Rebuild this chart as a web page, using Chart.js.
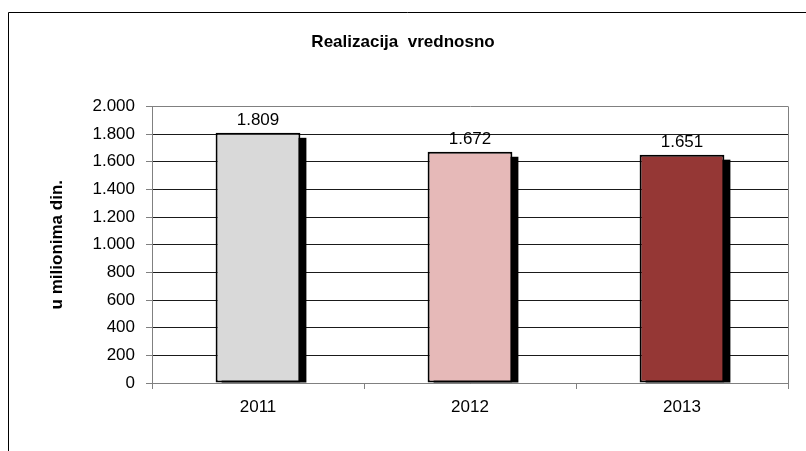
<!DOCTYPE html>
<html>
<head>
<meta charset="utf-8">
<script src="https://cdn.jsdelivr.net/npm/chart.js@4/dist/chart.umd.min.js"></script>
<style>
  html, body { margin: 0; padding: 0; background: #fff; }
  #wrap { width: 806px; height: 451px; }
</style>
</head>
<body>
<div id="wrap"><canvas id="realizacijaChart" width="806" height="451"></canvas></div>
<script>
const years = ["2011", "2012", "2013"];
const values = [1809, 1672, 1651];
const barColors = ["#d9d9d9", "#e6b9b8", "#953735"];
const yTicks = [0, 200, 400, 600, 800, 1000, 1200, 1400, 1600, 1800, 2000];

// 1809 -> "1.809"
function fmt(v) {
  return String(v).replace(/\B(?=(\d{3})+(?!\d))/g, ".");
}

// frame around the whole chart (only top and left are visible in the picture)
const framePlugin = {
  id: "frame",
  afterDraw(chart) {
    const ctx = chart.ctx;
    const a = chart.chartArea;
    ctx.save();
    ctx.strokeStyle = "#000";
    ctx.lineWidth = 1;
    ctx.beginPath();
    ctx.moveTo(8.5, 451);
    ctx.lineTo(8.5, 12.5);
    ctx.lineTo(806, 12.5);
    ctx.stroke();
    // right edge of the plot area
    ctx.strokeStyle = "#808080";
    ctx.beginPath();
    ctx.moveTo(Math.round(a.right) + 0.5, a.top);
    ctx.lineTo(Math.round(a.right) + 0.5, a.bottom);
    ctx.stroke();
    ctx.restore();
  },
};

// hard black shadow behind the bars (bar element clips its own drawing,
// so the shadow is painted from the bar geometry before the bars)
const shadowPlugin = {
  id: "barShadow",
  beforeDatasetsDraw(chart) {
    const ctx = chart.ctx;
    ctx.save();
    ctx.fillStyle = "#000";
    chart.getDatasetMeta(0).data.forEach((bar) => {
      const p = bar.getProps(["x", "y", "base", "width"], true);
      const left = p.x - p.width / 2 + 6;
      const top = p.y + 5;
      ctx.fillRect(left, top, p.width, p.base - top);
    });
    ctx.restore();
  },
};

// value labels above the bars
const labelPlugin = {
  id: "valueLabels",
  afterDatasetsDraw(chart) {
    const ctx = chart.ctx;
    ctx.save();
    ctx.font = "17px 'Liberation Sans', Arial, sans-serif";
    ctx.fillStyle = "#000";
    ctx.textAlign = "center";
    ctx.textBaseline = "bottom";
    chart.getDatasetMeta(0).data.forEach((bar, i) => {
      ctx.fillText(fmt(values[i]), bar.x, bar.y - 4);
    });
    ctx.restore();
  },
};

const ctx = document.getElementById("realizacijaChart").getContext("2d");
new Chart(ctx, {
  type: "bar",
  data: {
    labels: years,
    datasets: [
      {
        label: "Realizacija vrednosno",
        data: values,
        backgroundColor: barColors,
        borderColor: "#000",
        borderWidth: 2,
        borderSkipped: false,
        barPercentage: 0.4,
        categoryPercentage: 1,
        clip: { left: 10, top: 20, right: 10, bottom: 0 },
      },
    ],
  },
  options: {
    responsive: false,
    animation: false,
    layout: { padding: 0 },
    plugins: {
      legend: { display: false },
      tooltip: { enabled: false },
      title: {
        display: true,
        text: "Realizacija  vrednosno",
        color: "#000",
        font: { family: "'Liberation Sans', Arial, sans-serif", size: 17, weight: "bold" },
        padding: { top: 32, bottom: 54 },
      },
    },
    scales: {
      x: {
        afterFit(scale) {
          scale.height = 68;
        },
        grid: {
          display: true,
          drawOnChartArea: false,
          drawTicks: true,
          tickLength: 6,
          tickColor: "#808080",
          offset: true,
        },
        border: { display: true, color: "#808080", width: 1 },
        ticks: {
          color: "#000",
          padding: 8,
          font: { family: "'Liberation Sans', Arial, sans-serif", size: 17 },
        },
      },
      y: {
        min: 0,
        max: 2000,
        afterFit(scale) {
          scale.width = 152;
        },
        afterBuildTicks(scale) {
          scale.ticks = yTicks.map((v) => ({ value: v }));
        },
        grid: {
          color: (c) => (c.tick && c.tick.value === 2000 ? "#808080" : "#1a1a1a"),
          lineWidth: 1,
          drawTicks: true,
          tickLength: 6,
          tickColor: "#808080",
        },
        border: { display: true, color: "#808080", width: 1 },
        ticks: {
          color: "#000",
          padding: 11,
          font: { family: "'Liberation Sans', Arial, sans-serif", size: 17 },
          callback: (v) => fmt(v),
        },
        title: {
          display: true,
          text: "u milionima din.",
          color: "#000",
          font: { family: "'Liberation Sans', Arial, sans-serif", size: 17, weight: "bold" },
          padding: { top: 47, bottom: 0 },
        },
      },
      // empty right axis, only reserves the white margin right of the plot
      yRight: {
        position: "right",
        min: 0,
        max: 2000,
        afterFit(scale) {
          scale.width = 18;
        },
        grid: { display: false },
        border: { display: false },
        ticks: { display: false },
      },
    },
  },
  plugins: [framePlugin, shadowPlugin, labelPlugin],
});
</script>
</body>
</html>
